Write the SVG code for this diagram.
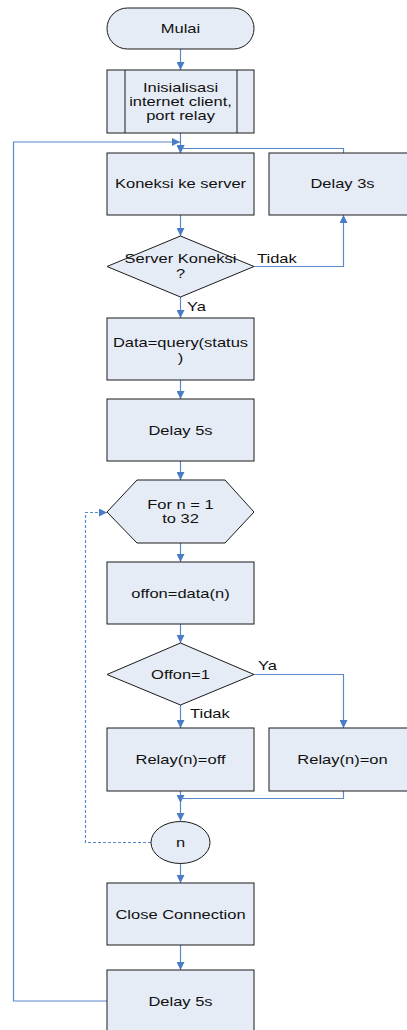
<svg xmlns="http://www.w3.org/2000/svg" width="407" height="1030" viewBox="0 0 407 1030">
<defs>
<marker id="ah" viewBox="0 0 10 10" refX="10" refY="5" markerWidth="8" markerHeight="8" markerUnits="userSpaceOnUse" orient="auto">
<path d="M0,0 L10,5 L0,10 z" fill="#4A7CC4"/>
</marker>
<style>
.n{fill:#E6ECF6;stroke:#1a1a1a;stroke-width:1}
.t{font-family:"Liberation Sans",Arial,sans-serif;font-size:13px;fill:#111;text-anchor:middle}
.l{font-family:"Liberation Sans",Arial,sans-serif;font-size:13px;fill:#111}
.c{fill:none;stroke:#5B88C8;stroke-width:1.2}
.a{marker-end:url(#ah)}
.d{stroke-dasharray:3,2}
</style>
</defs>
<rect width="407" height="1030" fill="#fff"/>
<g id="connectors">
<path class="c a" d="M180.5,49 V70"/>
<path class="c a" d="M180.5,133 V153"/>
<path class="c a" d="M107,1001 H13.5 V142 H180"/>
<path class="c a" d="M343.5,153 V148.5 H180.5 V153"/>
<path class="c a" d="M180.5,215 V236"/>
<path class="c a" d="M254,266.5 H343.5 V215"/>
<path class="c a" d="M180.5,297 V318"/>
<path class="c a" d="M180.5,380 V399"/>
<path class="c a" d="M180.5,461 V480"/>
<path class="c a" d="M180.5,543 V562"/>
<path class="c a" d="M180.5,624 V643"/>
<path class="c a" d="M254,674.5 H343.5 V728"/>
<path class="c a" d="M180.5,705 V728"/>
<path class="c a" d="M180.5,791 V803"/>
<path class="c" d="M343.5,791 V798.5 H180.5"/>
<path class="c a" d="M180.5,803 V821"/>
<path class="c a d" d="M151,842.5 H85.5 V512.5 H107"/>
<path class="c a" d="M180.5,863 V883"/>
<path class="c a" d="M180.5,945 V970"/>
<text class="l" transform="translate(257,263) scale(1.27,1)">Tidak</text>
<text class="l" transform="translate(187,311) scale(1.27,1)">Ya</text>
<text class="l" transform="translate(258,669.5) scale(1.27,1)">Ya</text>
<text class="l" transform="translate(190,717.5) scale(1.27,1)">Tidak</text>
</g>
<g id="mulai">
<rect class="n" x="107" y="8" width="147" height="41" rx="20.5" ry="20.5"/>
<text class="t" transform="translate(180.5,32.7) scale(1.27,1)">Mulai</text>
</g>
<g id="init">
<rect class="n" x="107" y="70" width="147" height="63"/>
<line x1="125" y1="70" x2="125" y2="133" stroke="#1a1a1a"/>
<line x1="237" y1="70" x2="237" y2="133" stroke="#1a1a1a"/>
<text class="t" transform="translate(180.5,91.7) scale(1.27,1)">Inisialisasi</text>
<text class="t" transform="translate(180.5,105.7) scale(1.27,1)">internet client,</text>
<text class="t" transform="translate(180.5,119.5) scale(1.27,1)">port relay</text>
</g>
<g id="koneksi">
<rect class="n" x="107" y="153" width="147" height="62"/>
<text class="t" transform="translate(180.5,188.3) scale(1.27,1)">Koneksi ke server</text>
</g>
<g id="delay3">
<rect class="n" x="269" y="153" width="147" height="62"/>
<text class="t" transform="translate(342.5,188.3) scale(1.27,1)">Delay 3s</text>
</g>
<g id="serverkoneksi">
<polygon class="n" points="180.5,236 254,266.5 180.5,297 107,266.5"/>
<text class="t" transform="translate(180.5,263) scale(1.27,1)">Server Koneksi</text>
<text class="t" transform="translate(180.5,278) scale(1.27,1)">?</text>
</g>
<g id="data">
<rect class="n" x="107" y="318" width="147" height="62"/>
<text class="t" transform="translate(180.5,347) scale(1.27,1)">Data=query(status</text>
<text class="t" transform="translate(180.5,362) scale(1.27,1)">)</text>
</g>
<g id="delay5a">
<rect class="n" x="107" y="399" width="147" height="62"/>
<text class="t" transform="translate(180.5,435) scale(1.27,1)">Delay 5s</text>
</g>
<g id="for">
<polygon class="n" points="137,480 225,480 254,512 225,543 137,543 107,512"/>
<text class="t" transform="translate(180.5,509) scale(1.27,1)">For n = 1</text>
<text class="t" transform="translate(180.5,523) scale(1.27,1)">to 32</text>
</g>
<g id="offon">
<rect class="n" x="107" y="562" width="147" height="62"/>
<text class="t" transform="translate(180.5,598) scale(1.27,1)">offon=data(n)</text>
</g>
<g id="offoncheck">
<polygon class="n" points="180.5,643 254,674.5 180.5,705 107,674.5"/>
<text class="t" transform="translate(180.5,678.5) scale(1.27,1)">Offon=1</text>
</g>
<g id="relayoff">
<rect class="n" x="107" y="728" width="147" height="63"/>
<text class="t" transform="translate(180.5,763.5) scale(1.27,1)">Relay(n)=off</text>
</g>
<g id="relayon">
<rect class="n" x="269" y="728" width="147" height="63"/>
<text class="t" transform="translate(342.5,763.5) scale(1.27,1)">Relay(n)=on</text>
</g>
<g id="n">
<ellipse class="n" cx="180.5" cy="842.5" rx="29.5" ry="21"/>
<text class="t" transform="translate(180.5,846.5) scale(1.27,1)">n</text>
</g>
<g id="close">
<rect class="n" x="107" y="883" width="147" height="62"/>
<text class="t" transform="translate(180.5,918.5) scale(1.27,1)">Close Connection</text>
</g>
<g id="delay5b">
<rect class="n" x="107" y="970" width="147" height="63"/>
<text class="t" transform="translate(180.5,1005.5) scale(1.27,1)">Delay 5s</text>
</g>
</svg>
